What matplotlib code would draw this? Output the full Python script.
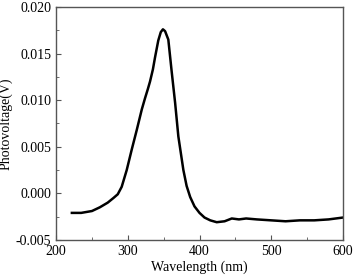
import numpy as np
import matplotlib
matplotlib.use('Agg')
import matplotlib.pyplot as plt
from matplotlib.ticker import MultipleLocator

plt.rcParams['font.family'] = 'serif'
plt.rcParams['font.serif'] = ['Liberation Serif', 'Times New Roman', 'DejaVu Serif']

# photovoltage spectrum
wavelength = [222, 235, 250, 261, 272, 280, 286, 291.5, 298.5, 305.5, 312.5, 319.5,
              324, 328, 331, 335, 338, 342.5, 346, 349, 352, 356.5, 361, 366, 370.5,
              377.5, 382, 387, 393, 400, 407, 415, 424, 435, 445, 455, 465, 480, 500,
              520, 540, 560, 580, 600]
photovoltage = [-0.0021, -0.0021, -0.0019, -0.0015, -0.0010, -0.0005, -0.0001, 0.0007,
                0.0025, 0.0047, 0.0068, 0.0090, 0.0102, 0.0112, 0.0120, 0.0133, 0.0146,
                0.0164, 0.0173, 0.0176, 0.0174, 0.0165, 0.0132, 0.0097, 0.0061, 0.0025,
                0.0008, -0.0004, -0.0014, -0.0021, -0.0026, -0.0029, -0.0031, -0.0030,
                -0.0027, -0.0028, -0.0027, -0.0028, -0.0029, -0.0030, -0.0029, -0.0029,
                -0.0028, -0.0026]

fig = plt.figure(figsize=(3.55, 2.78), dpi=100)
ax = fig.add_axes([0.158, 0.137, 0.808, 0.838])

ax.plot(wavelength, photovoltage, color='black', linewidth=1.8)

ax.set_xlim(200, 600)
ax.set_ylim(-0.005, 0.020)
ax.xaxis.set_major_locator(MultipleLocator(100))
ax.xaxis.set_minor_locator(MultipleLocator(50))
ax.yaxis.set_major_locator(MultipleLocator(0.005))
ax.yaxis.set_minor_locator(MultipleLocator(0.0025))
ax.yaxis.set_major_formatter(plt.FuncFormatter(lambda v, p: f"{v:.3f}"))
ax.tick_params(which='both', direction='in', labelsize=10, color='#555555')
ax.tick_params(which='major', length=3.5)
ax.tick_params(which='minor', length=2)
for s in ax.spines.values():
	s.set_color('#555555')
	s.set_linewidth(1.0)

ax.set_xlabel('Wavelength (nm)', fontsize=10, labelpad=2)
ax.set_ylabel('Photovoltage(V)', fontsize=10, labelpad=2)

fig.savefig('out.png', dpi=100)
